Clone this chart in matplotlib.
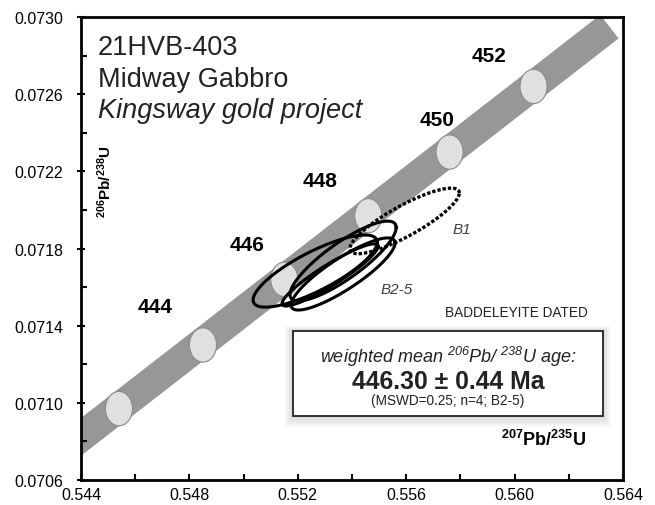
import numpy as np
import matplotlib
matplotlib.use('Agg')
from matplotlib import pyplot as plt
from matplotlib.patches import Ellipse, Rectangle

plt.rcParams['font.family'] = ['Liberation Sans', 'DejaVu Sans']
plt.rcParams['mathtext.default'] = 'regular'

# concordia age markers (Ma) and their 207Pb/235U, 206Pb/238U positions
marker_ages = [442, 444, 446, 448, 450, 452]
marker_x = [0.5454, 0.5485, 0.5515, 0.5546, 0.5576, 0.5607]
marker_y = [0.07097, 0.07130, 0.07164, 0.07197, 0.07230, 0.07264]

# concordia band (decay constant uncertainty) centre line end points
band_x = [0.5425, 0.5635]
band_y = [0.07066, 0.07295]

# age labels
label_ages = ['444', '446', '448', '450', '452']
label_x = [0.54673, 0.55013, 0.55282, 0.55714, 0.55906]
label_y = [0.07150, 0.07182, 0.07215, 0.07247, 0.07280]

# analyses: centre, 2s errors, rho
grain = ['B1', 'B2', 'B3', 'B4', 'B5']
cx = [0.55594, 0.55264, 0.55367, 0.55367, 0.55319]
cy = [0.071943, 0.071683, 0.071735, 0.071668, 0.071663]
sx = [0.00202, 0.00229, 0.00196, 0.00192, 0.00177]
sy = [0.000170, 0.000187, 0.000207, 0.000187, 0.000161]
rho = [0.85, 0.80, 0.84, 0.86, 0.92]

fig = plt.figure(figsize=(6.55, 5.06), dpi=100)
ax = fig.add_axes([0.1237, 0.0494, 0.8274, 0.915])
ax.set_xlim(0.544, 0.564)
ax.set_ylim(0.0706, 0.0730)

# band
ax.plot(band_x, band_y, color='#979797', lw=21.5, solid_capstyle='butt', zorder=1)

# age marker circles
for mx, my in zip(marker_x, marker_y):
    ax.add_patch(Ellipse((mx, my), 0.001, 0.000178, facecolor='#e0e0e0',
                         edgecolor='#8a8a8a', lw=0.8, zorder=2))

for a, lx, ly in zip(label_ages, label_x, label_y):
    ax.text(lx, ly, a, fontsize=15, fontweight='bold', ha='center', va='center')

# error ellipses
t = np.linspace(0, 2 * np.pi, 300)
for g, x0, y0, ex, ey, r in zip(grain, cx, cy, sx, sy, rho):
    ex_ = x0 + ex * np.cos(t)
    ey_ = y0 + ey * (r * np.cos(t) + np.sqrt(1 - r**2) * np.sin(t))
    if g == 'B1':
        ax.plot(ex_, ey_, color='black', lw=2.4, ls=(0, (1.0, 0.6)), zorder=3)
    else:
        ax.plot(ex_, ey_, color='black', lw=2.2, zorder=4)

ax.text(0.55806, 0.071901, 'B1', fontsize=11, style='italic', color='#404040',
        ha='center', va='center')
ax.text(0.55566, 0.071590, 'B2-5', fontsize=11, style='italic', color='#404040',
        ha='center', va='center')

# sample info
ax.text(0.031, 0.920, '21HVB-403', transform=ax.transAxes, fontsize=19.5, color='#222222')
ax.text(0.031, 0.851, 'Midway Gabbro', transform=ax.transAxes, fontsize=19.5, color='#222222')
ax.text(0.031, 0.784, 'Kingsway gold project', transform=ax.transAxes, fontsize=19.5,
        style='italic', color='#222222')

ax.text(0.804, 0.363, 'BADDELEYITE DATED', transform=ax.transAxes, fontsize=9.8,
        ha='center', va='center', color='#222222')

# result box with soft shadow
bx0, by0, bw, bh = 0.391, 0.138, 0.572, 0.184
for k in range(6, 0, -1):
    d = 0.004 * k
    ax.add_patch(Rectangle((bx0 - d * 0.6, by0 - d), bw + d * 1.2, bh + d * 1.4,
                           transform=ax.transAxes, facecolor='black', alpha=0.025,
                           edgecolor='none', zorder=5))
ax.add_patch(Rectangle((bx0, by0), bw, bh, transform=ax.transAxes, facecolor='white',
                       edgecolor='#222222', lw=1.3, zorder=6))
ax.text(0.677, 0.268, 'weighted mean $^{206}$Pb/ $^{238}$U age:', transform=ax.transAxes,
        fontsize=13, style='italic', ha='center', va='center', color='#222222', zorder=7)
ax.text(0.677, 0.214, '446.30 ± 0.44 Ma', transform=ax.transAxes, fontsize=17.8,
        fontweight='bold', ha='center', va='center', color='#222222', zorder=7)
ax.text(0.677, 0.173, '(MSWD=0.25; n=4; B2-5)', transform=ax.transAxes, fontsize=9.8,
        ha='center', va='center', color='#222222', zorder=7)

# axis labels inside the plot
ax.text(0.044, 0.646, '$^{206}$Pb/$^{238}$U', transform=ax.transAxes, fontsize=11,
        fontweight='bold', rotation=90, ha='center', va='center')
ax.text(0.854, 0.089, '$^{207}$Pb/$^{235}$U', transform=ax.transAxes, fontsize=13,
        fontweight='bold', ha='center', va='center')

ax.set_xticks(np.arange(0.544, 0.5641, 0.004))
ax.set_xticks(np.arange(0.546, 0.5641, 0.004), minor=True)
ax.set_yticks(np.arange(0.0706, 0.07301, 0.0004))
ax.set_yticks(np.arange(0.0708, 0.07301, 0.0004), minor=True)
ax.set_xticklabels([f'{v:.3f}' for v in np.arange(0.544, 0.5641, 0.004)])
ax.set_yticklabels([f'{v:.4f}' for v in np.arange(0.0706, 0.07301, 0.0004)])
ax.tick_params(axis='both', which='major', labelsize=11.5, width=1.5, length=4)
ax.tick_params(axis='x', which='both', direction='in', pad=5)
ax.tick_params(axis='y', which='major', direction='inout', length=6, pad=10)
ax.tick_params(axis='y', which='minor', direction='in', width=1.5, length=4)
ax.tick_params(axis='x', which='minor', width=1.5, length=4)
for s in ax.spines.values():
    s.set_linewidth(2)

fig.savefig('out.png', dpi=100)
